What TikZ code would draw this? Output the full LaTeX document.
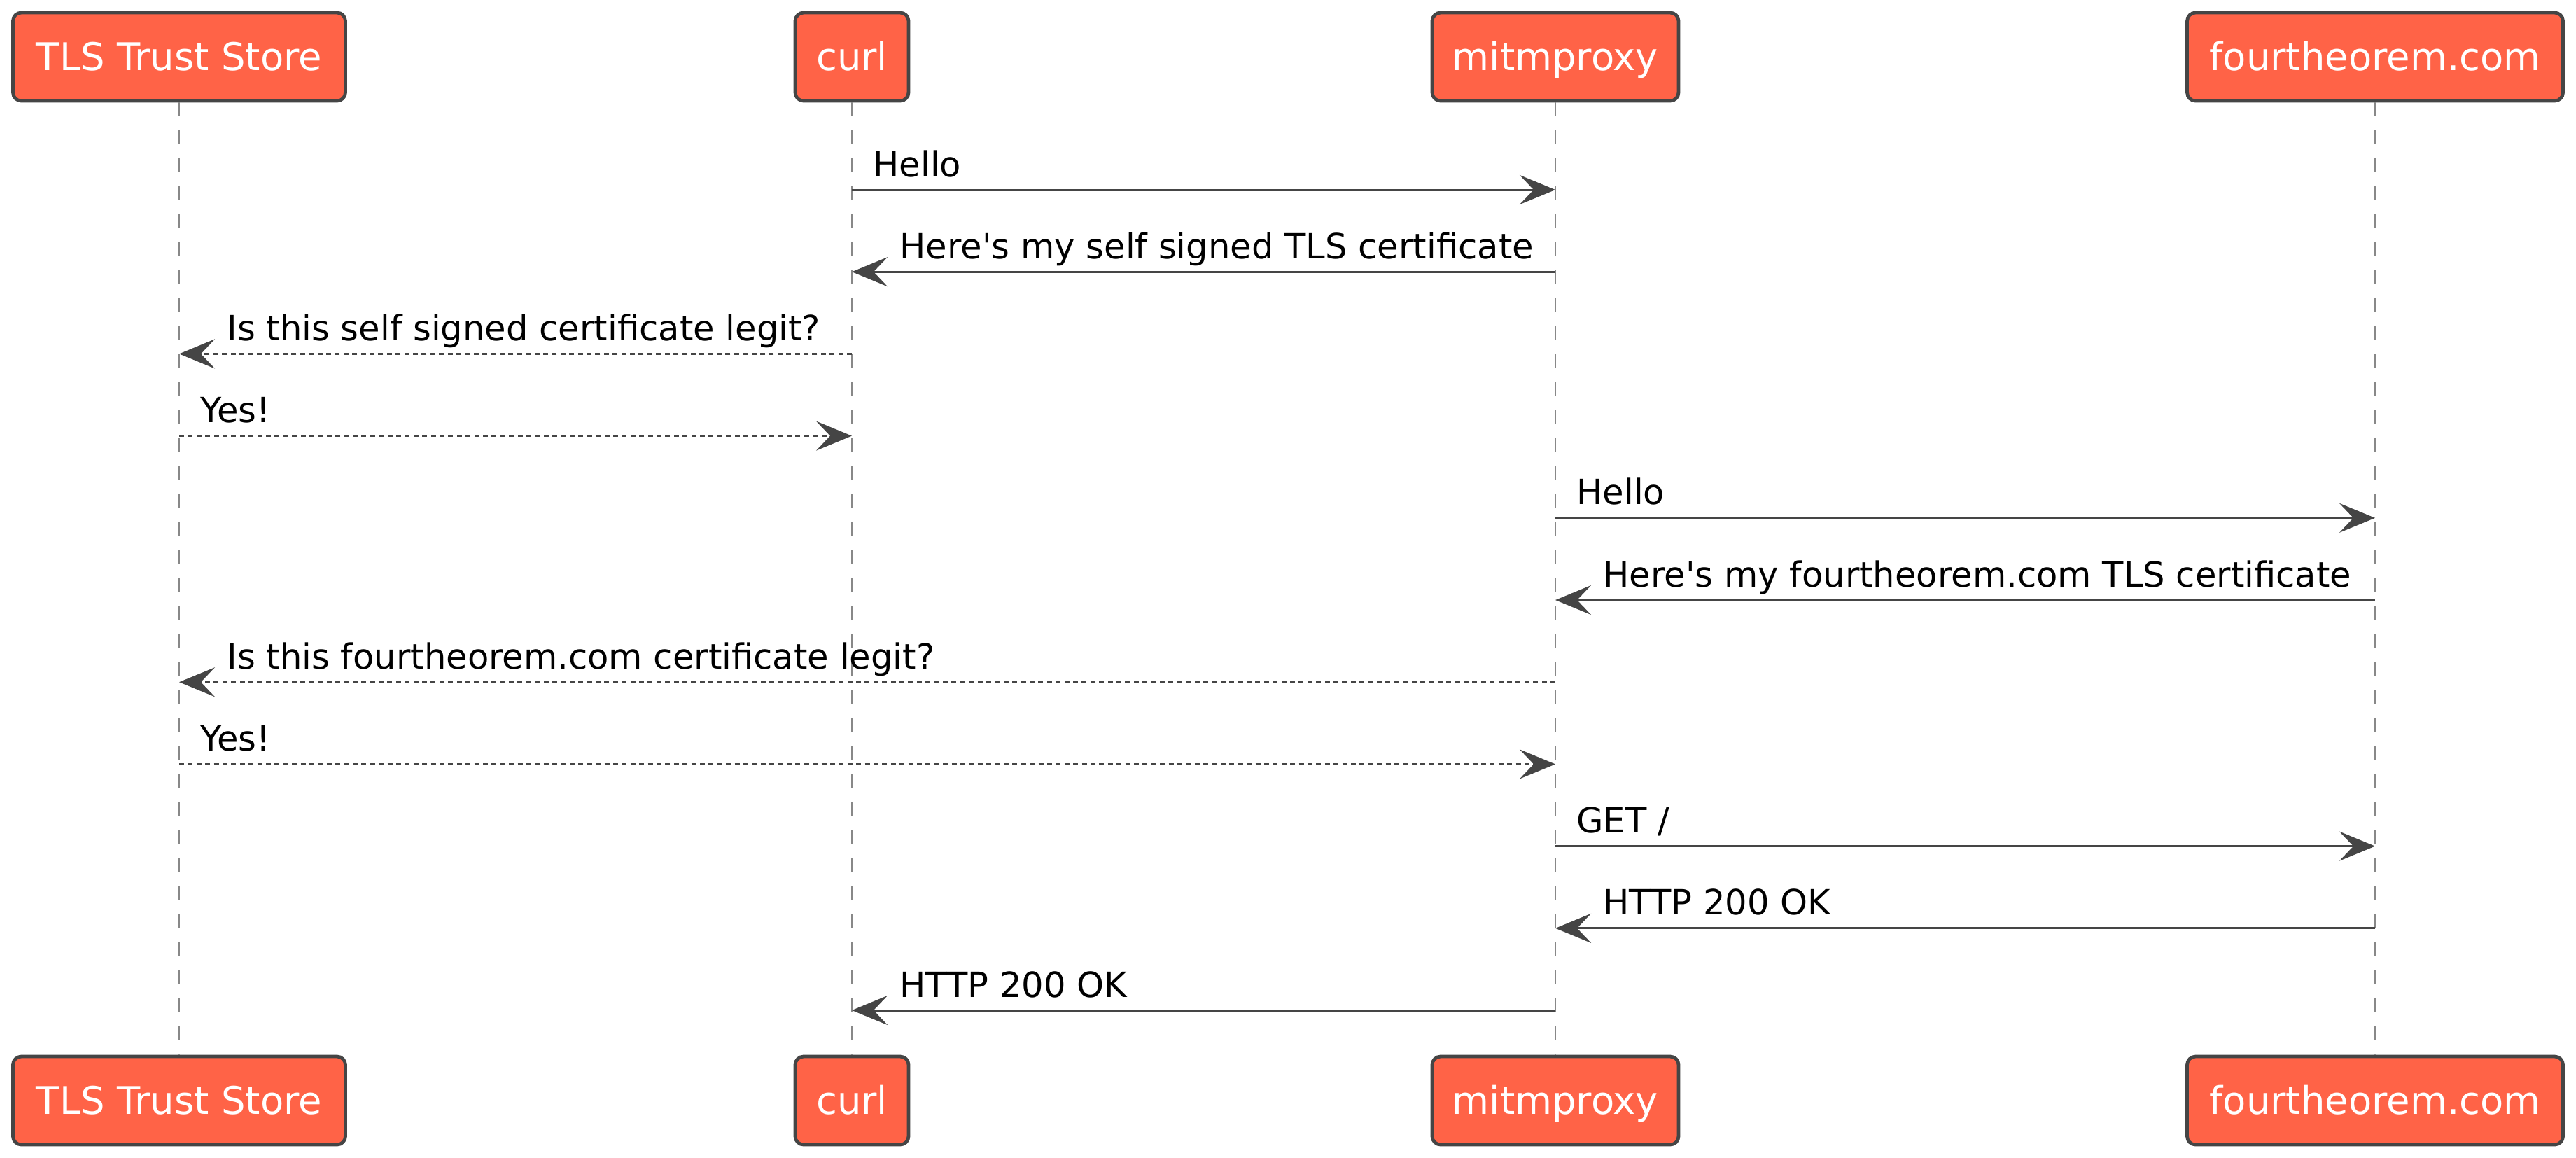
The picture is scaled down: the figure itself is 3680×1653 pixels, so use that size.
\documentclass[tikz,border=0pt]{standalone}
\usepackage{fontspec}
\setmainfont{DejaVu Sans}
\usetikzlibrary{arrows.meta,calc}
\definecolor{tomatofill}{HTML}{FF6347}
\definecolor{edgegray}{HTML}{454545}
\definecolor{lifegray}{HTML}{888888}
\newcommand{\partfont}{\fontsize{13.6pt}{16pt}\selectfont}
\newcommand{\msgfont}{\fontsize{12.4pt}{14pt}\selectfont}
\begin{document}
\begin{tikzpicture}[x=0.25pt,y=-0.25pt,
  partbox/.style={rectangle, rounded corners=3pt, draw=edgegray, line width=1.2pt,
    fill=tomatofill, text=white, font=\partfont, inner sep=0pt,
    minimum height=31.5pt, text height=9.9pt, text depth=0pt},
  lifeline/.style={draw=lifegray, line width=0.5pt, dash pattern=on 5pt off 5pt},
  msg/.style={draw=edgegray, line width=0.75pt,
    -{Stealth[length=12.75pt, width=10.5pt, inset=5pt, fill=edgegray]}},
  reply/.style={msg, dash pattern=on 1.75pt off 1.35pt},
  lbl/.style={font=\msgfont, text=black, inner sep=0pt, anchor=base west},
  lblr/.style={lbl, pos=0, xshift=7.25pt, yshift=4.75pt},
  lbll/.style={lbl, pos=1, xshift=16.75pt, yshift=4.75pt},
]
\useasboundingbox (0,0) rectangle (3680,1653);

% participants (top)
\node[partbox, minimum width=118.75pt] (tlsT)  at (256,81)  {TLS Trust Store};
\node[partbox, minimum width=40.5pt]   (curlT) at (1217,81) {curl};
\node[partbox, minimum width=88pt]     (mitmT) at (2222,81) {mitmproxy};
\node[partbox, minimum width=134.25pt] (fourT) at (3393,81) {fourtheorem.com};
% participants (bottom)
\node[partbox, minimum width=118.75pt] (tlsB)  at (256,1572)  {TLS Trust Store};
\node[partbox, minimum width=40.5pt]   (curlB) at (1217,1572) {curl};
\node[partbox, minimum width=88pt]     (mitmB) at (2222,1572) {mitmproxy};
\node[partbox, minimum width=134.25pt] (fourB) at (3393,1572) {fourtheorem.com};

% lifelines
\draw[lifeline] (tlsT.south)  -- (tlsB.north);
\draw[lifeline] (curlT.south) -- (curlB.north);
\draw[lifeline] (mitmT.south) -- (mitmB.north);
\draw[lifeline] (fourT.south) -- (fourB.north);

% message rows
\foreach \i in {1,...,11} {
  \coordinate (y\i) at (0,{271+(\i-1)*117.2});
}

\draw[msg] (curlT |- y1) -- (mitmT |- y1)
  node[lblr] {Hello};
\draw[msg] (mitmT |- y2) -- (curlT |- y2)
  node[lbll] {Here\textquotesingle s my self signed TLS certificate};
\draw[reply] (curlT |- y3) -- (tlsT |- y3)
  node[lbll] {Is this self signed certificate legit?};
\draw[reply] (tlsT |- y4) -- (curlT |- y4)
  node[lblr] {Yes!};
\draw[msg] (mitmT |- y5) -- (fourT |- y5)
  node[lblr] {Hello};
\draw[msg] (fourT |- y6) -- (mitmT |- y6)
  node[lbll] {Here\textquotesingle s my fourtheorem.com TLS certificate};
\draw[reply] (mitmT |- y7) -- (tlsT |- y7)
  node[lbll] {Is this fourtheorem.com certificate legit?};
\draw[reply] (tlsT |- y8) -- (mitmT |- y8)
  node[lblr] {Yes!};
\draw[msg] (mitmT |- y9) -- (fourT |- y9)
  node[lblr] {GET /};
\draw[msg] (fourT |- y10) -- (mitmT |- y10)
  node[lbll] {HTTP 200 OK};
\draw[msg] (mitmT |- y11) -- (curlT |- y11)
  node[lbll] {HTTP 200 OK};
\end{tikzpicture}
\end{document}
